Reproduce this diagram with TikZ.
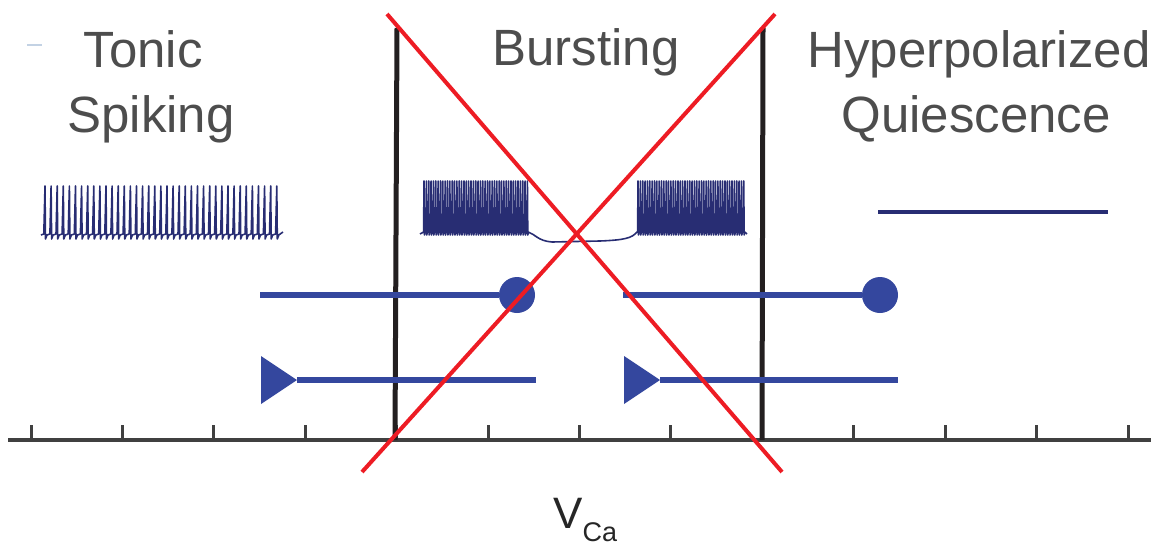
\documentclass[tikz,border=0pt]{standalone}
\usepackage{fontspec}
\setmainfont{Liberation Sans}
\definecolor{txt}{RGB}{77,77,77}
\definecolor{trace}{RGB}{40,45,115}
\definecolor{mk}{RGB}{52,71,158}
\definecolor{xred}{RGB}{237,28,36}
\definecolor{barc}{RGB}{35,31,32}
\definecolor{axisc}{RGB}{64,64,64}
\definecolor{faint}{RGB}{195,210,228}
\tikzset{
  title/.style={anchor=base, inner sep=0pt, text=txt, font=\fontsize{51}{60}\selectfont},
  tracepath/.style={draw=trace, line width=1.6pt, line join=round},
  mline/.style={draw=mk, line width=6pt},
  dot/.style={circle, fill=mk, inner sep=0pt, minimum size=36pt},
  barline/.style={draw=barc, line width=5pt},
  redx/.style={draw=xred, line width=4pt},
  axisline/.style={draw=axisc, line width=4pt},
  tickline/.style={draw=axisc, line width=3pt}
}
\begin{document}
\begin{tikzpicture}[x=1pt,y=-1pt]
\useasboundingbox (0,0) rectangle (1151,546);
% faint artifact
\coordinate (fa) at (27,45); \coordinate (fb) at (42,45);
\draw[faint, line width=1.5pt] (fa) -- (fb);
% titles
\node[title] (tonic) at (143,67) {Tonic};
\node[title] (spiking) at (151,132) {Spiking};
\node[title] (bursting) at (586,65) {Bursting};
\node[title] (hyper) at (979,67) {Hyperpolarized};
\node[title] (quies) at (976,132) {Quiescence};
% axis
\coordinate (axl) at (8,440); \coordinate (axr) at (1151,440);
\draw[axisline] (axl) -- (axr);
\foreach \i in {0,...,12}{
  \coordinate (tk\i) at ({31+91.42*\i},425);
  \draw[tickline] (tk\i) -- ({31+91.42*\i},440);
}
\node[anchor=base west, inner sep=0pt, text=black!85, font=\fontsize{44}{50}\selectfont] (vca) at (553,528) {V\raisebox{-13pt}{\fontsize{27}{30}\selectfont Ca}};
% black bars
\coordinate (b1t) at (397,28); \coordinate (b1b) at (395,440);
\coordinate (b2t) at (763,28); \coordinate (b2b) at (762,440);
\draw[barline] (b1t) -- (b1b);
\draw[barline] (b2t) -- (b2b);
% tonic spiking trace
\draw[tracepath] (41,235) \foreach \i in {0,...,38}{ -- ({45+6.1*\i-1.2},234) -- ({45+6.1*\i},186) -- ({45+6.1*\i+0.5},239) -- ({45+6.1*\i+2},235)} -- (283,232);
% bursting trace
\draw[tracepath] (420,234) \foreach \i in {0,...,44}{ -- ({424+2.35*\i-0.4},232) -- ({424+2.35*\i},181) -- ({424+2.35*\i+0.4},235) -- ({424+2.35*\i+1},232)}
  -- (528,232) .. controls (535,234) and (538,241) .. (552,242)
  -- (600,241) .. controls (625,240) and (632,238) .. (637,232)
  \foreach \i in {0,...,45}{ -- ({638+2.35*\i-0.4},232) -- ({638+2.35*\i},181) -- ({638+2.35*\i+0.4},235) -- ({638+2.35*\i+1},232)} -- (747,234);
% quiescence trace
\coordinate (q1) at (878,212); \coordinate (q2) at (1108,212);
\draw[draw=trace, line width=4pt] (q1) -- (q2);
% markers row 1
\node[dot] (c1) at (517,295) {};
\node[dot] (c2) at (880,295) {};
\coordinate (s1) at (260,295); \coordinate (s2) at (623,295);
\draw[mline] (s1) -- (c1);
\draw[mline] (s2) -- (c2);
% markers row 2
\coordinate (tr1) at (297,380); \coordinate (tr2) at (660,380);
\coordinate (e1) at (536,380); \coordinate (e2) at (898,380);
\fill[mk] (261,356) -- (tr1) -- (261,404) -- cycle;
\fill[mk] (624,356) -- (tr2) -- (624,404) -- cycle;
\draw[mline] (tr1) -- (e1);
\draw[mline] (tr2) -- (e2);
% red cross
\coordinate (r1a) at (387,14); \coordinate (r1b) at (782,472);
\coordinate (r2a) at (775,14); \coordinate (r2b) at (362,472);
\draw[redx] (r1a) -- (r1b);
\draw[redx] (r2a) -- (r2b);
\end{tikzpicture}
\end{document}
